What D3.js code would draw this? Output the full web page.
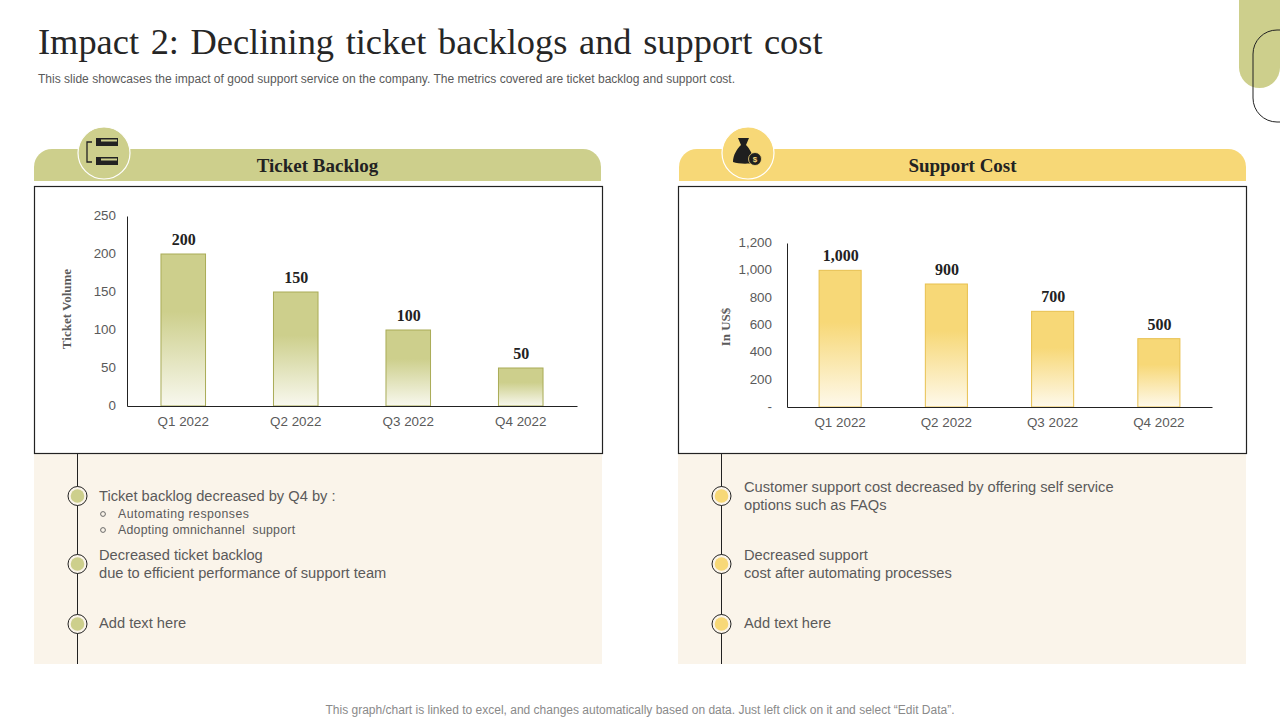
<!DOCTYPE html>
<html><head><meta charset="utf-8">
<script src="https://cdn.jsdelivr.net/npm/d3@7"></script>
<style>
html,body{margin:0;padding:0;background:#fff;overflow:hidden}
svg{display:block}
.sans{font-family:"Liberation Sans",Arial,sans-serif}
.serif{font-family:"Liberation Serif","Times New Roman",serif}
</style></head><body>
<svg id="c" width="1280" height="720"></svg>
<script>
const quarters = ["Q1 2022","Q2 2022","Q3 2022","Q4 2022"];
const backlogValues = [200,150,100,50];
const costValues = [1000,900,700,500];
const backlogTicks = [0,50,100,150,200,250];
const costTicks = [0,200,400,600,800,1000,1200];
const titleText = "Impact 2: Declining ticket backlogs and support cost";
const subtitleText = "This slide showcases the impact of good support service on the company. The metrics covered are ticket backlog and support cost.";
const footerText = "This graph/chart is linked to excel,  and changes automatically based on data. Just left click on it and select “Edit Data”.";

const OLIVE="#cdcf8c", YELLOW="#f7d877", CREAM="#faf4ea", INK="#222", GREY="#5a5a5a";
const svg=d3.select("#c");
const defs=svg.append("defs");
function grad(id,col){
  const g=defs.append("linearGradient").attr("id",id).attr("x1",0).attr("x2",0).attr("y1",0).attr("y2",1);
  g.append("stop").attr("offset","0%").attr("stop-color",col);
  g.append("stop").attr("offset","38%").attr("stop-color",col);
  g.append("stop").attr("offset","100%").attr("stop-color",d3.interpolateRgb(col,"#fff")(0.85));
}
grad("gO",OLIVE);grad("gY",YELLOW);

// decoration top-right
svg.append("path").attr("d","M1239,0V67.5a20.5,20.5 0 0 0 41,0V0Z").attr("fill",OLIVE);
svg.append("path").attr("d","M1280,30H1277a24,24 0 0 0 -24,24V98a24,24 0 0 0 24,24H1280").attr("fill","none").attr("stroke",INK).attr("stroke-width",1);

svg.append("text").attr("class","serif").attr("x",38).attr("y",54).attr("font-size",36.4).attr("fill","#262626")
  .attr("word-spacing",2.5).text(titleText);
svg.append("text").attr("class","sans").attr("x",38).attr("y",83).attr("font-size",12.04).attr("fill",GREY).text(subtitleText);
svg.append("text").attr("class","sans").attr("x",640).attr("y",714).attr("text-anchor","middle").attr("font-size",12).attr("fill","#8a8a8a").text(footerText);

function panel(o){
  const g=svg.append("g");
  // cream box
  g.append("rect").attr("x",o.px).attr("y",454).attr("width",568).attr("height",210).attr("fill",CREAM);
  // header
  const hx=o.hx,hw=567,hy=149,hh=32,r=18;
  g.append("path").attr("d",`M${hx},${hy+hh}V${hy+r}a${r},${r} 0 0 1 ${r},${-r}H${hx+hw-r}a${r},${r} 0 0 1 ${r},${r}V${hy+hh}Z`).attr("fill",o.col);
  g.append("text").attr("class","serif").attr("x",hx+hw/2).attr("y",172).attr("text-anchor","middle")
    .attr("font-size",19).attr("font-weight","bold").attr("fill",INK).text(o.head);
  g.append("circle").attr("cx",o.ix).attr("cy",153).attr("r",26).attr("fill",o.col).attr("stroke","#fff").attr("stroke-width",1.2);
  o.icon(g.append("g").attr("transform",`translate(${o.ix},153)`));
  // chart frame
  g.append("rect").attr("x",o.px+.5).attr("y",186.5).attr("width",568).attr("height",267).attr("fill","#fff").attr("stroke",INK).attr("stroke-width",1.2);

  // chart
  const x=d3.scaleBand().domain(quarters).range(o.xr).paddingInner(o.pad).paddingOuter(o.pad/2);
  const y=d3.scaleLinear().domain(o.dom).range(o.yr);
  g.selectAll("rect.bar").data(o.vals).join("rect").attr("class","bar")
    .attr("x",(d,i)=>x(quarters[i])).attr("width",x.bandwidth())
    .attr("y",d=>y(d)).attr("height",d=>y(0)-y(d))
    .attr("fill",`url(#${o.gid})`).attr("stroke",o.edge).attr("stroke-width",1);
  const ay=g.append("g").attr("class","sans").attr("transform",`translate(${o.xr[0]},0)`)
    .call(d3.axisLeft(y).tickValues(o.ticks).tickSize(0).tickPadding(o.tp).tickFormat(o.fmt));
  ay.selectAll("text").attr("font-size",13.4).attr("fill",GREY).attr("font-family","Liberation Sans").attr("dy","0.26em");
  ay.select(".domain").attr("stroke",INK);
  const ax=g.append("g").attr("class","sans").attr("transform",`translate(0,${o.yr[0]})`)
    .call(d3.axisBottom(x).tickSize(0).tickPadding(10));
  ax.selectAll("text").attr("font-size",13.4).attr("fill",GREY).attr("font-family","Liberation Sans");
  ax.select(".domain").attr("stroke",INK);
  g.selectAll("text.val").data(o.vals).join("text").attr("class","val serif")
    .attr("x",(d,i)=>x(quarters[i])+x.bandwidth()/2+.5).attr("y",d=>y(d)-9)
    .attr("text-anchor","middle").attr("font-size",16).attr("font-weight","bold").attr("fill",INK)
    .text(d=>d3.format(",")(d));
  g.append("text").attr("class","serif").attr("transform",`translate(${o.ylx},${o.yly}) rotate(-90)`)
    .attr("text-anchor","middle").attr("font-size",13).attr("font-weight","bold").attr("fill",GREY).text(o.ylab);

  // timeline
  g.append("line").attr("x1",o.tx).attr("x2",o.tx).attr("y1",454).attr("y2",664).attr("stroke",INK).attr("stroke-width",1);
  g.selectAll("g.dot").data(o.dots).join("g").attr("class","dot").each(function(d){
    const s=d3.select(this);
    s.append("circle").attr("cx",o.tx).attr("cy",d).attr("r",9.5).attr("fill",CREAM).attr("stroke",INK).attr("stroke-width",1);
    s.append("circle").attr("cx",o.tx).attr("cy",d).attr("r",6.8).attr("fill",o.col);
  });
  o.lines.forEach(l=>{
    const t=g.append("text").attr("class","sans").attr("x",l.x).attr("y",l.y)
      .attr("font-size",l.s).attr("fill",GREY).attr("xml:space","preserve").text(l.t);
    if(l.ls)t.attr("letter-spacing",l.ls);
  });
  (o.bullets||[]).forEach(b=>{
    g.append("circle").attr("cx",b.x).attr("cy",b.y).attr("r",2.4).attr("fill","none").attr("stroke",GREY).attr("stroke-width",.9);
  });
}

function ticketIcon(g){
  g.append("path").attr("d","M-12,-11H-17V9H-12").attr("fill","none").attr("stroke","#222").attr("stroke-width",1.3);
  [-15,4].forEach(yy=>{
    g.append("rect").attr("x",-8).attr("y",yy).attr("width",22).attr("height",8).attr("fill","#222");
    g.append("rect").attr("x",-3).attr("y",yy+1.5).attr("width",16).attr("height",2).attr("fill","#cdcf8c");
  });
}
function bagIcon(g){
  g.append("path").attr("d","M-10,-15H1L-2,-8C2,-4 5,2 5,6L6,10C0,11 -10,11 -15,9C-15,2 -11,-4 -7,-8Z").attr("fill","#1f1f1f");
  g.append("circle").attr("cx",7).attr("cy",6).attr("r",6.5).attr("fill","#1f1f1f").attr("stroke",YELLOW).attr("stroke-width",.8);
  g.append("text").attr("class","sans").attr("x",7).attr("y",9).attr("text-anchor","middle").attr("font-size",8).attr("font-weight","bold").attr("fill",YELLOW).text("$");
}

panel({px:34,hx:34,ix:104,col:OLIVE,edge:"#a9ac57",gid:"gO",head:"Ticket Backlog",icon:ticketIcon,
  vals:backlogValues,dom:[0,250],ticks:backlogTicks,xr:[127,577],yr:[406,216],pad:.604,tp:11,fmt:d3.format("d"),
  ylab:"Ticket Volume",ylx:71,yly:309,tx:77.5,dots:[496,564,624],
  lines:[
   {x:99,y:501,s:14.66,t:"Ticket backlog decreased by Q4 by :"},
   {x:118,y:518,s:12.3,t:"Automating responses",ls:.45},
   {x:118,y:534,s:12.3,t:"Adopting omnichannel  support",ls:.27},
   {x:99,y:560,s:14.66,t:"Decreased ticket backlog"},
   {x:99,y:578,s:14.66,t:"due to efficient performance of support team"},
   {x:99,y:628,s:14.66,t:"Add text here"}],
  bullets:[{x:103,y:514},{x:103,y:530}]});

panel({px:678,hx:679,ix:748,col:YELLOW,edge:"#e8c04f",gid:"gY",head:"Support Cost",icon:bagIcon,
  vals:costValues,dom:[0,1200],ticks:costTicks,xr:[787,1212],yr:[407,243],pad:.604,tp:15,
  fmt:d=>d===0?"-":d3.format(",")(d),
  ylab:"In US$",ylx:730,yly:327,tx:721.5,dots:[496,564,624],
  lines:[
   {x:744,y:492,s:14.66,t:"Customer support cost decreased by offering self service"},
   {x:744,y:510,s:14.66,t:"options such as FAQs"},
   {x:744,y:560,s:14.66,t:"Decreased support"},
   {x:744,y:578,s:14.66,t:"cost after automating processes"},
   {x:744,y:628,s:14.66,t:"Add text here"}]});
</script></body></html>
